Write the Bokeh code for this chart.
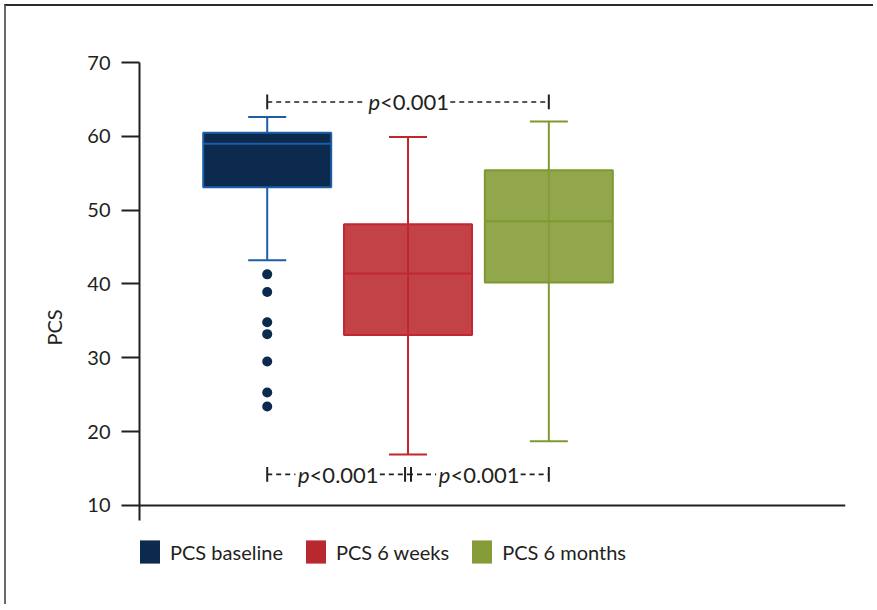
from bokeh.plotting import figure
from bokeh.models import Range1d, Span, Legend, LegendItem, ColumnDataSource, FixedTicker
from bokeh.core.properties import value
from bokeh.embed import file_html
from bokeh.resources import INLINE

# ---------------- data ----------------
groups = ["PCS baseline", "PCS 6 weeks", "PCS 6 months"]
positions = [1, 2, 3]
q1 = [53.1, 33.1, 40.2]
median = [59.0, 41.4, 48.5]
q3 = [60.5, 48.1, 55.4]
lower = [43.2, 16.9, 18.7]
upper = [62.6, 59.9, 62.0]
outliers_baseline = [41.3, 38.9, 34.8, 33.2, 29.5, 25.3, 23.4]
y_ticks = [10, 20, 30, 40, 50, 60, 70]
p_letter = "p"
p_rest = "<0.001"
# comparisons: (group a, group b)
comparisons_top = [(0, 2)]
comparisons_bottom = [(0, 1), (1, 2)]

# ---------------- style ----------------
FONT = "Lato"
TXT = "#231f20"
fill_colors = ["#0b2a4d", "#b9282f", "#869c39"]
fill_alpha = [1.0, 0.88, 0.9]
line_colors = ["#1c5ea8", "#c1272f", "#7d9a30"]
legend_colors = ["#0b2a4d", "#b9282f", "#869c39"]
BOX_W = 0.909
CAP_W = 0.27
TOP_Y = 64.65
BOT_Y = 14.2
BAR_H = 1.0
GAP = 0.3
PAIR_OFF = 0.021

p = figure(width=869, height=600, output_backend="svg", toolbar_location=None,
           x_range=Range1d(0.093, 5.107), y_range=Range1d(-1.8, 70),
           min_border_left=133, min_border_top=56, min_border_right=30,
           min_border_bottom=14)
p.styles = {"border-top": "2px solid #2b2b2b", "border-left": "2px solid #6b6b6b",
            "margin-left": "4px", "margin-top": "4px"}
p.outline_line_color = None
p.xgrid.visible = False
p.ygrid.visible = False
p.xaxis.visible = False
p.background_fill_color = "white"
p.border_fill_color = "white"

ya = p.yaxis[0]
ya.ticker = FixedTicker(ticks=y_ticks)
ya.bounds = (8.0, 70)
ya.axis_line_width = 2
ya.axis_line_color = TXT
ya.major_tick_line_width = 2
ya.major_tick_line_color = TXT
ya.major_tick_out = 18
ya.major_tick_in = 0
ya.minor_tick_line_color = None
ya.major_label_text_font = FONT
ya.major_label_text_font_size = "20px"
ya.major_label_text_color = TXT
ya.major_label_standoff = 11
ya.axis_label = "PCS"
ya.axis_label_text_font = FONT
ya.axis_label_text_font_size = "20px"
ya.axis_label_text_font_style = "normal"
ya.axis_label_text_color = TXT
ya.axis_label_standoff = 18

# x axis line at 10
p.add_layout(Span(location=10, dimension="width", line_color=TXT, line_width=2))

src = ColumnDataSource(dict(x=positions, q1=q1, q3=q3, med=median, lo=lower, hi=upper,
                            fc=fill_colors, fa=fill_alpha, lc=line_colors,
                            cl=[x - CAP_W / 2 for x in positions],
                            cr=[x + CAP_W / 2 for x in positions],
                            bl=[x - BOX_W / 2 for x in positions],
                            br=[x + BOX_W / 2 for x in positions]))

# whiskers (vertical line through full range) and caps
p.segment(x0="x", y0="lo", x1="x", y1="hi", line_color="lc", line_width=2, source=src)
p.segment(x0="cl", y0="hi", x1="cr", y1="hi", line_color="lc", line_width=2, source=src)
p.segment(x0="cl", y0="lo", x1="cr", y1="lo", line_color="lc", line_width=2, source=src)
# boxes
p.vbar(x="x", width=BOX_W, bottom="q1", top="q3", fill_color="fc", fill_alpha="fa",
       line_color="lc", line_width=2, source=src)
# medians
p.segment(x0="bl", y0="med", x1="br", y1="med", line_color="lc", line_width=2, source=src)

# outliers
p.scatter(x=[positions[0]] * len(outliers_baseline), y=outliers_baseline, size=10,
          fill_color=fill_colors[0], line_color=None)

# significance annotations
def bracket(xa, xb, y, ta, tb):
    xm = (xa + xb) / 2
    p.segment(x0=[xa, xm + GAP], y0=[y, y], x1=[xm - GAP, xb], y1=[y, y],
              line_color=TXT, line_width=1.6, line_dash="5 4")
    p.segment(x0=[ta, tb], y0=[y - BAR_H, y - BAR_H], x1=[ta, tb], y1=[y + BAR_H, y + BAR_H],
              line_color=TXT, line_width=2)
    p.text(x=[xm], y=[y], text=[p_letter], text_font=value(FONT), text_font_style="italic",
           text_font_size="22px", text_color=TXT, text_align="right", text_baseline="middle",
           x_offset=-28)
    p.text(x=[xm], y=[y], text=[p_rest], text_font=value(FONT),
           text_font_size="22px", text_color=TXT, text_align="left", text_baseline="middle",
           x_offset=-28)

for a, b in comparisons_top:
    bracket(positions[a], positions[b], TOP_Y, positions[a], positions[b])
for a, b in comparisons_bottom:
    ta = positions[a] + (PAIR_OFF if a == 1 else 0)
    tb = positions[b] - (PAIR_OFF if b == 1 else 0)
    bracket(positions[a], positions[b], BOT_Y, ta, tb)

# legend (proxy renderers with a single NaN point so only the legend swatch is drawn)
items = []
nan = float("nan")
for name, col in zip(groups, legend_colors):
    r = p.vbar(x=[nan], width=0.5, top=[nan], bottom=[nan], fill_color=col, line_color=None)
    items.append(LegendItem(label=name, renderers=[r]))
legend = Legend(items=items, orientation="horizontal", location=(-2, 26),
                glyph_width=25, glyph_height=29, label_text_font=FONT,
                label_text_font_size="20px", label_text_color=TXT, label_standoff=8,
                spacing=20, padding=0, margin=0, border_line_color=None,
                background_fill_alpha=0)
p.add_layout(legend)

open("out.html", "w").write(file_html(p, INLINE))
